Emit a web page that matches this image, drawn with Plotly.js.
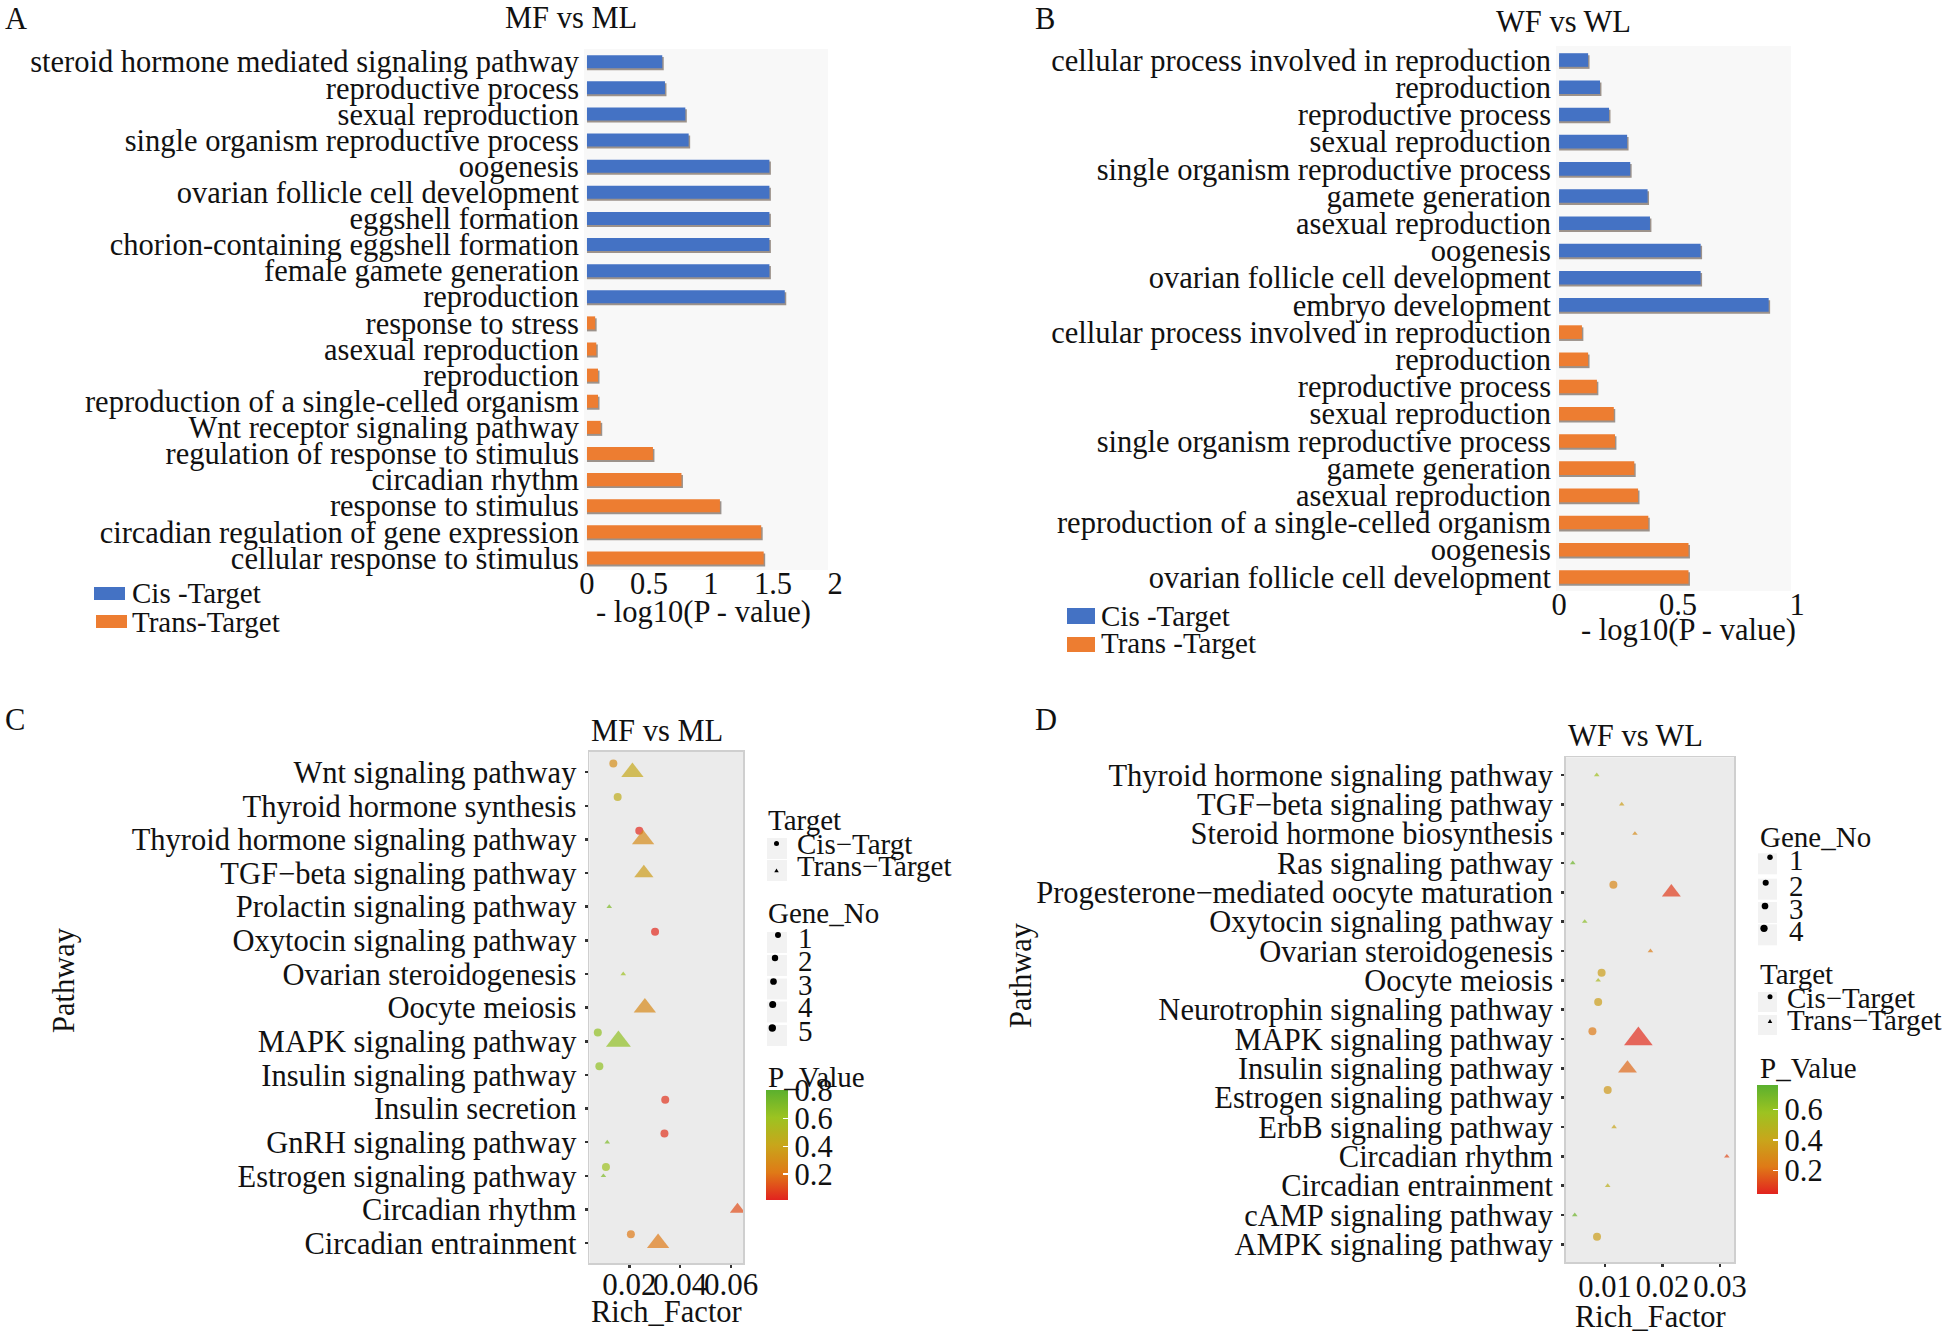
<!DOCTYPE html>
<html><head><meta charset="utf-8">
<script src="https://cdn.plot.ly/plotly-3.0.1.min.js"></script>
<style>html,body{margin:0;padding:0;background:#fff}#chart{width:1946px;height:1335px}</style>
</head><body><div id="chart"></div>
<script>
// ---------------- Panel A: MF vs ML (GO bars) ----------------
const aCisTerms = ["steroid hormone mediated signaling pathway","reproductive process","sexual reproduction","single organism reproductive process","oogenesis","ovarian follicle cell development","eggshell formation","chorion-containing eggshell formation","female gamete generation","reproduction"];
const aCisValues = [0.607,0.629,0.793,0.82,1.471,1.471,1.471,1.471,1.471,1.595];
const aTransTerms = ["response to stress","asexual reproduction","reproduction","reproduction of a single-celled organism","Wnt receptor signaling pathway","regulation of response to stimulus","circadian rhythm","response to stimulus","circadian regulation of gene expression","cellular response to stimulus"];
const aTransValues = [0.066,0.075,0.089,0.089,0.111,0.532,0.762,1.072,1.405,1.425];
const aTicks = [0,0.5,1,1.5,2];

// ---------------- Panel B: WF vs WL (GO bars) ----------------
const bCisTerms = ["cellular process involved in reproduction","reproduction","reproductive process","sexual reproduction","single organism reproductive process","gamete generation","asexual reproduction","oogenesis","ovarian follicle cell development","embryo development"];
const bCisValues = [0.122,0.172,0.21,0.286,0.299,0.372,0.382,0.595,0.595,0.881];
const bTransTerms = ["cellular process involved in reproduction","reproduction","reproductive process","sexual reproduction","single organism reproductive process","gamete generation","asexual reproduction","reproduction of a single-celled organism","oogenesis","ovarian follicle cell development"];
const bTransValues = [0.096,0.122,0.159,0.23,0.235,0.316,0.332,0.375,0.544,0.544];
const bTicks = [0,0.5,1];

// ---------------- Panel C: MF vs ML (KEGG bubbles) ----------------
const cPathways = ["Wnt signaling pathway","Thyroid hormone synthesis","Thyroid hormone signaling pathway","TGF\u2212beta signaling pathway","Prolactin signaling pathway","Oxytocin signaling pathway","Ovarian steroidogenesis","Oocyte meiosis","MAPK signaling pathway","Insulin signaling pathway","Insulin secretion","GnRH signaling pathway","Estrogen signaling pathway","Circadian rhythm","Circadian entrainment"];
const cCisPathway = ["Wnt signaling pathway","Thyroid hormone synthesis","Thyroid hormone signaling pathway","Oxytocin signaling pathway","MAPK signaling pathway","Insulin signaling pathway","Insulin secretion","GnRH signaling pathway","Estrogen signaling pathway","Circadian entrainment"];
const cCisRich = [0.0137,0.0154,0.0239,0.0301,0.0076,0.0082,0.0341,0.0338,0.0108,0.0206];
const cCisP = [0.30,0.45,0.03,0.03,0.64,0.64,0.05,0.05,0.60,0.21];
const cCisGene = [1,1,1,1,1,1,1,1,1,1];
const cTransPathway = ["Wnt signaling pathway","Thyroid hormone signaling pathway","TGF\u2212beta signaling pathway","Prolactin signaling pathway","Ovarian steroidogenesis","Oocyte meiosis","MAPK signaling pathway","GnRH signaling pathway","Estrogen signaling pathway","Circadian rhythm","Circadian entrainment"];
const cTransRich = [0.0212,0.0254,0.0257,0.0121,0.0176,0.0261,0.0157,0.0113,0.0098,0.0625,0.0313];
const cTransP = [0.42,0.29,0.37,0.70,0.60,0.28,0.64,0.70,0.70,0.11,0.21];
const cTransGene = [4,4,3,1,1,4,5,1,1,2,4];
const cXTicks = [0.02,0.04,0.06];
const cXTickText = ["0.02","0.04","0.06"];
const cPTicks = [0.2,0.4,0.6,0.8];
const cGeneLegend = ["1","2","3","4","5"];

// ---------------- Panel D: WF vs WL (KEGG bubbles) ----------------
const dPathways = ["Thyroid hormone signaling pathway","TGF\u2212beta signaling pathway","Steroid hormone biosynthesis","Ras signaling pathway","Progesterone\u2212mediated oocyte maturation","Oxytocin signaling pathway","Ovarian steroidogenesis","Oocyte meiosis","Neurotrophin signaling pathway","MAPK signaling pathway","Insulin signaling pathway","Estrogen signaling pathway","ErbB signaling pathway","Circadian rhythm","Circadian entrainment","cAMP signaling pathway","AMPK signaling pathway"];
const dCisPathway = ["Progesterone\u2212mediated oocyte maturation","Oocyte meiosis","Neurotrophin signaling pathway","MAPK signaling pathway","Estrogen signaling pathway","AMPK signaling pathway"];
const dCisRich = [0.01145,0.0094,0.0088,0.0078,0.01046,0.0086];
const dCisP = [0.28,0.37,0.37,0.23,0.35,0.37];
const dCisGene = [1,1,1,1,1,1];
const dTransPathway = ["Thyroid hormone signaling pathway","TGF\u2212beta signaling pathway","Steroid hormone biosynthesis","Ras signaling pathway","Progesterone\u2212mediated oocyte maturation","Oxytocin signaling pathway","Ovarian steroidogenesis","Oocyte meiosis","MAPK signaling pathway","Insulin signaling pathway","ErbB signaling pathway","Circadian rhythm","Circadian entrainment","cAMP signaling pathway"];
const dTransRich = [0.00855,0.0129,0.0152,0.00438,0.02154,0.00646,0.0179,0.0088,0.0158,0.0139,0.01157,0.0312,0.01046,0.00472];
const dTransP = [0.56,0.37,0.30,0.71,0.10,0.63,0.24,0.52,0.07,0.19,0.40,0.13,0.46,0.71];
const dTransGene = [1,1,1,1,2,1,1,1,4,2,1,1,1,1];
const dXTicks = [0.01,0.02,0.03];
const dXTickText = ["0.01","0.02","0.03"];
const dPTicks = [0.2,0.4,0.6];
const dGeneLegend = ["1","2","3","4"];

// ---------------- styling ----------------
const W = 1946, H = 1335;
const fx = p => p / W, fy = p => 1 - p / H;
const FONT = "Liberation Serif, Times New Roman, serif";
const FS = 30.5, LFS = 29;
const INK = "#111111";
const BLUE = "#4472C4", ORANGE = "#ED7D31", SHADOW = "rgba(80,62,50,0.55)";
const pScale = [[0,"#E2231F"],[0.25,"#DF7A17"],[0.5,"#C8A61B"],[0.75,"#9CC321"],[1,"#5BB02E"]];

function circleSize(g){ return 8 + 0.3*(g-1); }
function triSize(g, gmax, wmin, wmax){ // same area as an equilateral triangle of width w
  const w = wmin + (wmax-wmin)*Math.sqrt((g-1)/(gmax-1));
  return w*1.08;
}

const traces = [];
function barPair(cisVals, transVals, xa, ya, dx){
  const cisY = cisVals.map((v,i)=>i);
  const transY = transVals.map((v,i)=>i+cisVals.length);
  [[cisVals,cisY,BLUE],[transVals,transY,ORANGE]].forEach(([vals,ys,col])=>{
    traces.push({type:"bar",orientation:"h",x:vals.map(v=>v+dx),y:ys,width:0.5,offset:-0.25+0.075,
      marker:{color:SHADOW,line:{width:0}},xaxis:xa,yaxis:ya,showlegend:false,hoverinfo:"skip"});
    traces.push({type:"bar",orientation:"h",x:vals,y:ys,width:0.5,offset:-0.25,
      marker:{color:col,line:{width:0}},xaxis:xa,yaxis:ya,showlegend:false});
  });
}
barPair(aCisValues, aTransValues, "x", "y", 0.012);
barPair(bCisValues, bTransValues, "x2", "y2", 0.006);

function bubbles(paths, cisPath, cisRich, cisP, cisGene, transPath, transRich, transP, transGene, xa, ya, cax, gmax, wmin, wmax){
  const idx = p => paths.indexOf(p);
  traces.push({type:"scatter",mode:"markers",x:cisRich,y:cisPath.map(p=>idx(p)-0.26),xaxis:xa,yaxis:ya,showlegend:false,
    marker:{symbol:"circle",size:cisGene.map(circleSize),color:cisP,coloraxis:cax,line:{width:0}}});
  traces.push({type:"scatter",mode:"markers",x:transRich,y:transPath.map(p=>idx(p)),xaxis:xa,yaxis:ya,showlegend:false,
    marker:{symbol:"triangle-up",size:transGene.map(g=>triSize(g,gmax,wmin,wmax)),color:transP,coloraxis:cax,line:{width:0}}});
}
bubbles(cPathways,cCisPathway,cCisRich,cCisP,cCisGene,cTransPathway,cTransRich,cTransP,cTransGene,"x3","y3","coloraxis",5,4.5,20);
bubbles(dPathways,dCisPathway,dCisRich,dCisP,dCisGene,dTransPathway,dTransRich,dTransP,dTransGene,"x4","y4","coloraxis2",4,4.5,23);

const tfont = {family:FONT,size:FS,color:INK};
const lfont = {family:FONT,size:LFS,color:INK};
const barY = (terms, dom, range, xa) => ({domain:dom,range:range,tickvals:terms.map((t,i)=>i),ticktext:terms,anchor:xa,
  ticks:"",showgrid:false,zeroline:false,showline:false,tickfont:tfont,ticklabelstandoff:4,automargin:false,fixedrange:true});
const barX = (dom, range, tv, ya) => ({domain:dom,range:range,tickvals:tv,ticktext:tv.map(String),anchor:ya,tickangle:0,
  ticks:"",showgrid:false,zeroline:false,showline:false,tickfont:tfont,ticklabelstandoff:-8,automargin:false,fixedrange:true});
const ggY = (terms, dom, xa) => ({domain:dom,range:[terms.length-0.4,-0.6],tickvals:terms.map((t,i)=>i),ticktext:terms,anchor:xa,
  ticks:"outside",ticklen:3,tickwidth:2.5,tickcolor:"#333333",showgrid:false,zeroline:false,showline:true,mirror:true,
  linecolor:"#CFCFCF",linewidth:1.8,tickfont:tfont,ticklabelstandoff:2,automargin:false,fixedrange:true});
const ggX = (dom, range, tv, tt, ya, so, fs) => ({domain:dom,range:range,tickvals:tv,ticktext:tt,anchor:ya,tickangle:0,
  ticks:"outside",ticklen:3,tickwidth:2.5,tickcolor:"#333333",showgrid:false,zeroline:false,showline:true,mirror:true,
  linecolor:"#CFCFCF",linewidth:1.8,tickfont:{family:FONT,size:fs,color:INK},ticklabelstandoff:so,automargin:false,fixedrange:true});

const cbar = (top, left, len, thick, tv) => ({x:fx(left),xanchor:"left",xref:"paper",y:fy(top),yanchor:"top",yref:"paper",
  len:len,lenmode:"pixels",thickness:thick,thicknessmode:"pixels",outlinewidth:0,xpad:0,ypad:0,
  tickvals:tv,ticktext:tv.map(String),ticks:"inside",ticklen:5,tickwidth:1.5,tickcolor:"#FFFFFF",
  tickfont:tfont,title:{text:""}});

// ---------------- shapes & annotations (backgrounds, legends, texts) ----------------
const shapes = [];
const annotations = [];
function rectPx(x0,y0,x1,y1,fill){ shapes.push({type:"rect",xref:"paper",yref:"paper",x0:fx(x0),x1:fx(x1),y0:fy(y1),y1:fy(y0),fillcolor:fill,line:{width:0},layer:"below"}); }
function dotPx(cx,cy,d){ shapes.push({type:"circle",xref:"paper",yref:"paper",x0:fx(cx-d/2),x1:fx(cx+d/2),y0:fy(cy+d/2),y1:fy(cy-d/2),fillcolor:"#000000",line:{width:0},layer:"above"}); }
function triPx(cx,cy,w){ const h=w*0.866;
  shapes.push({type:"path",xref:"paper",yref:"paper",path:`M ${fx(cx)} ${fy(cy-2*h/3)} L ${fx(cx-w/2)} ${fy(cy+h/3)} L ${fx(cx+w/2)} ${fy(cy+h/3)} Z`,fillcolor:"#000000",line:{width:0},layer:"above"}); }
function txt(t,x,y,anchor,extra){ annotations.push(Object.assign({text:t,x:fx(x),y:fy(y),xref:"paper",yref:"paper",xanchor:anchor||"left",yanchor:"middle",showarrow:false,font:tfont},extra||{})); }
function ltxt(t,x,y){ txt(t,x,y,"left",{font:lfont}); }
function keyRect(x0,y0,x1,y1,fill){ shapes.push({type:"rect",xref:"paper",yref:"paper",x0:fx(x0),x1:fx(x1),y0:fy(y1),y1:fy(y0),fillcolor:fill,line:{width:0},layer:"above"}); }

// plot backgrounds
rectPx(584,49,828,570,"#F8F8F8");
rectPx(1556,46,1791,591,"#F8F8F8");
shapes.push({type:"rect",xref:"x3 domain",yref:"y3 domain",x0:0,x1:1,y0:0,y1:1,fillcolor:"#EBEBEB",line:{width:0},layer:"below"});
shapes.push({type:"rect",xref:"x4 domain",yref:"y4 domain",x0:0,x1:1,y0:0,y1:1,fillcolor:"#EBEBEB",line:{width:0},layer:"below"});

// panel letters and titles
txt("A",3,0,"left",{yanchor:"top"}); txt("B",1033,0,"left",{yanchor:"top"});
txt("C",3,720); txt("D",1033,720);
txt("MF vs ML",571,18,"center"); txt("WF vs WL",1563,22,"center");
txt("MF vs ML",589,731); txt("WF vs WL",1566,736);
txt("- log10(P - value)",703,612,"center"); txt("- log10(P - value)",1688,630,"center");
txt("Rich_Factor",666,1312,"center"); txt("Rich_Factor",1650,1317,"center");
txt("Pathway",64,980,"center",{textangle:-90}); txt("Pathway",1021,975,"center",{textangle:-90});

// bar legends
keyRect(94,587,125,600,BLUE); keyRect(96,615,127,628,ORANGE);
ltxt("Cis -Target",130,593); ltxt("Trans-Target",130,622);
keyRect(1067,608,1095,624,BLUE); keyRect(1067,637,1095,652,ORANGE);
ltxt("Cis -Target",1099,616); ltxt("Trans -Target",1099,643);

// Panel C legends
const KEY = "#F2F2F2";
ltxt("Target",766,820);
keyRect(767,838,787,859,KEY); keyRect(767,860,787,881,KEY);
dotPx(776.5,843.5,5); triPx(776.5,871,4.5);
ltxt("Cis\u2212Targt",795,844); ltxt("Trans\u2212Target",795,866);
ltxt("Gene_No",766,913);
const cGeneY = [935,958,981.5,1004.5,1028], cGeneX = [778,775,773.5,772.7,772.3];
cGeneLegend.forEach((g,i)=>{ keyRect(767,cGeneY[i]-3,787,cGeneY[i]+18,KEY); dotPx(cGeneX[i],cGeneY[i],6+0.35*i); ltxt(g,796,cGeneY[i]+3); });
ltxt("P_Value",766,1077);

// Panel D legends
ltxt("Gene_No",1757.7,837);
const dGeneY = [857.3,882.7,906,928.3], dGeneX = [1770,1765.7,1765,1764];
dGeneLegend.forEach((g,i)=>{ keyRect(1758,dGeneY[i]-4,1777,dGeneY[i]+17,KEY); dotPx(dGeneX[i],dGeneY[i],5.5+0.6*i); ltxt(g,1786.7,dGeneY[i]+3); });
ltxt("Target",1757.7,974);
keyRect(1758,992,1777,1012,KEY); keyRect(1758,1015,1777,1035,KEY);
dotPx(1770,996.7,5); triPx(1770,1021.7,4.5);
ltxt("Cis\u2212Target",1785,998); ltxt("Trans\u2212Target",1785,1020);
ltxt("P_Value",1757.7,1068);

const layout = {
  width:W,height:H,margin:{l:0,r:0,t:0,b:0},paper_bgcolor:"#FFFFFF",plot_bgcolor:"rgba(0,0,0,0)",
  showlegend:false,barmode:"overlay",hovermode:false,font:{family:FONT,color:INK},
  xaxis: barX([fx(584),fx(835)],[-0.024,2.0],aTicks,"y"),
  yaxis: barY(aCisTerms.concat(aTransTerms),[fy(570),fy(49)],[19.46,-0.486],"x"),
  xaxis2: barX([fx(1556),fx(1797)],[-0.013,1.0],bTicks,"y2"),
  yaxis2: barY(bCisTerms.concat(bTransTerms),[fy(591),fy(46)],[19.515,-0.515],"x2"),
  xaxis3: ggX([fx(589.3),fx(743.3)],[0.00425,0.0648],cXTicks,cXTickText,"y3",-10,31),
  yaxis3: ggY(cPathways,[fy(1263.3),fy(752)],"x3"),
  xaxis4: ggX([fx(1566),fx(1734.3)],[0.0032,0.0325],dXTicks,dXTickText,"y4",-6,30.5),
  yaxis4: ggY(dPathways,[fy(1262),fy(757.3)],"x4"),
  coloraxis:{cmin:0.013,cmax:0.805,colorscale:pScale,colorbar:cbar(1090,765.7,110,21.6,cPTicks)},
  coloraxis2:{cmin:0.048,cmax:0.758,colorscale:pScale,colorbar:cbar(1085,1756.7,109,20.6,dPTicks)},
  shapes:shapes,annotations:annotations
};
Plotly.newPlot("chart",traces,layout,{staticPlot:true,displayModeBar:false});
</script></body></html>
